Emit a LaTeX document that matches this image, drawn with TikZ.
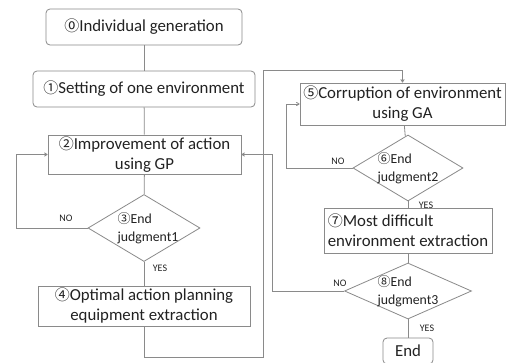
\documentclass[tikz,border=0pt]{standalone}
\usepackage{fontspec}
\setmainfont{Carlito}
\newfontfamily\cfont{Noto Sans CJK JP}
\usetikzlibrary{shapes.geometric,arrows.meta}
\newcommand{\cn}[1]{{\cfont\fontsize{15}{15}\selectfont #1}}
\newcommand{\cs}[1]{{\cfont\fontsize{13}{15}\selectfont #1}}
\definecolor{ln}{HTML}{8A8A8A}
\definecolor{tx}{HTML}{222222}
\tikzset{
  box/.style={draw=ln, line width=0.8pt, inner sep=0pt, text=tx, font=\fontsize{16.8}{20}\selectfont, align=center},
  rbox/.style={box, rounded corners=4pt},
  dia/.style={draw=ln, line width=0.8pt, diamond, inner sep=0pt},
  dtext/.style={text=tx, font=\fontsize{13.8}{18.5}\selectfont, align=left, inner sep=0pt},
  yn/.style={text=tx, font=\fontsize{10}{12}\selectfont, inner sep=0pt},
  ln/.style={draw=ln, line width=0.8pt},
  arr/.style={ln, -{To[length=3.5pt,width=4pt]}}
}
\begin{document}
\begin{tikzpicture}[x=1pt,y=-1pt]
\useasboundingbox (0,0) rectangle (509,362);
\fill[white] (0,0) rectangle (509,362);
\node[rbox, minimum width=196, minimum height=36] (b0) at (144,27) {\cn{⓪}Individual generation};
\node[rbox, minimum width=222, minimum height=36] (b1) at (144,89) {\cn{①}Setting of one environment};
\node[box, minimum width=193, minimum height=39] (b2) at (144.5,154.5) {\cn{②}Improvement of action\\using GP};
\node[dia, minimum width=112, minimum height=67] (d3) at (144,228) {};
\node[dtext] (t3) at (148,228) {\cs{③}End\\judgment1};
\node[box, minimum width=212, minimum height=40] (b4) at (144,306) {\cn{④}Optimal action planning\\equipment extraction};
\node[box, minimum width=205, minimum height=42] (b5) at (402.5,104) {\cn{⑤}Corruption of environment\\using GA};
\node[dia, minimum width=110, minimum height=66] (d6) at (408,168) {};
\node[dtext] (t6) at (408,168) {\cs{⑥}End\\judgment2};
\node[box, minimum width=168, minimum height=45, align=left] (b7) at (408,230.5) {\cn{⑦}Most difficult\\environment extraction};
\node[dia, minimum width=127, minimum height=56] (d8) at (408,291) {};
\node[dtext] (t8) at (408,291) {\cs{⑧}End\\judgment3};
\node[rbox, minimum width=50, minimum height=26] (en) at (408,351) {End};

\coordinate (c1) at (263,357);
\coordinate (c2) at (263,70);
\coordinate (c3) at (16,228);
\coordinate (c4) at (286,168);
\coordinate (c5) at (272,291);

\draw[ln] (b0) -- (b1);
\draw[ln] (b1) -- (b2);
\draw[ln] (b2) -- (d3);
\draw[arr] (d3.west) -- (c3) |- (b2.west);
\draw[ln] (d3) -- (b4);
\draw[arr] (b4.south) |- (c1) -- (c2) -| (b5.north);
\draw[ln] (b5) -- (d6);
\draw[arr] (d6.west) -- (c4) |- (b5.west);
\draw[ln] (d6) -- (b7);
\draw[ln] (b7) -- (d8);
\draw[arr] (d8.west) -- (c5) |- (b2.east);
\draw[ln] (d8) -- (en);

\node[yn] (n3) at (66,218) {NO};
\node[yn] (y3) at (160,268) {YES};
\node[yn] (n6) at (338,161) {NO};
\node[yn] (y6) at (426,205) {YES};
\node[yn] (n8) at (340,283) {NO};
\node[yn] (y8) at (427,328) {YES};
\end{tikzpicture}
\end{document}
